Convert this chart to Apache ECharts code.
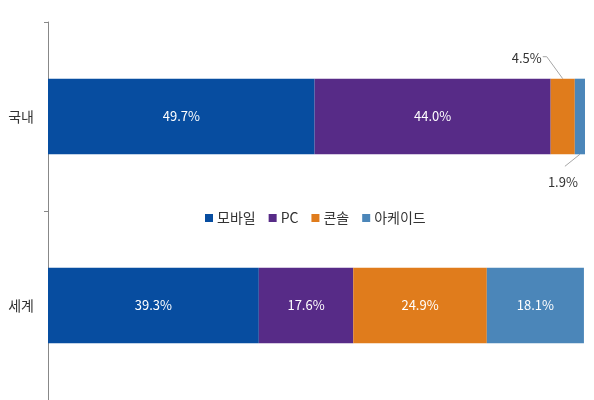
<!DOCTYPE html>
<html>
<head>
<meta charset="utf-8">
<script src="https://cdn.jsdelivr.net/npm/echarts@6/dist/echarts.min.js"></script>
<style>
  html, body { margin: 0; padding: 0; background: #fff; }
  #chart { width: 594px; height: 400px; }
</style>
</head>
<body>
<div id="chart"></div>
<script>
const categories = ['국내', '세계'];
const seriesNames = ['모바일', 'PC', '콘솔', '아케이드'];
const mobile = [49.7, 39.3];
const pc = [44.0, 17.6];
const consoleShare = [4.5, 24.9];
const arcade = [1.9, 18.1];

const colors = ['#074DA0', '#572B87', '#E07C1C', '#4B86B9'];
const FONT = '"Noto Sans CJK KR", "Noto Sans", sans-serif';
const BAR_RATIO = 0.4;

const chart = echarts.init(document.getElementById('chart'));

const valuesList = [mobile, pc, consoleShare, arcade];

// 국내 콘솔/아케이드 slices are too thin, so their labels go outside
const outsideLabels = {
  2: { position: 'top', dx: -36, dy: -9 },
  3: { position: 'bottom', dx: -17, dy: 16 }
};

const series = seriesNames.map((name, i) => {
  const out = outsideLabels[i];
  return {
    name,
    type: 'bar',
    stack: 'total',
    barWidth: (BAR_RATIO * 100) + '%',
    itemStyle: { color: colors[i] },
    label: {
      show: true,
      position: 'inside',
      color: '#fff',
      fontSize: 13,
      fontFamily: FONT,
      formatter: p => p.value.toFixed(1) + '%'
    },
    labelLayout: out ? (p => (p.dataIndex === 0 ? { dx: out.dx, dy: out.dy } : {})) : undefined,
    data: valuesList[i].map((v, j) => {
      if (out && j === 0) {
        return { value: v, label: { position: out.position, color: '#333' } };
      }
      return v;
    })
  };
});

chart.setOption({
  animation: false,
  textStyle: { fontFamily: FONT },
  legend: {
    data: seriesNames,
    top: 206,
    left: 200,
    icon: 'rect',
    itemWidth: 8,
    itemHeight: 8,
    itemGap: 13,
    textStyle: { fontSize: 14, color: '#333', fontFamily: FONT, padding: [0, 0, 0, -1] }
  },
  grid: { left: 48, right: 9, top: 22, height: 382, containLabel: false },
  xAxis: {
    type: 'value',
    min: 0,
    max: 'dataMax',
    show: false
  },
  yAxis: {
    type: 'category',
    data: categories,
    inverse: true,
    axisLine: { show: true, lineStyle: { color: '#888', width: 1 } },
    axisTick: { show: true, length: 4, lineStyle: { color: '#888' } },
    axisLabel: { fontSize: 14, color: '#333', margin: 14, fontFamily: FONT }
  },
  series
});

// guide lines for the outside labels, anchored on the bar segments via the chart's own scales
function segmentPoint(seriesIdx, catIdx, edge) {
  let start = 0;
  for (let k = 0; k < seriesIdx; k++) start += valuesList[k][catIdx];
  const mid = start + valuesList[seriesIdx][catIdx] / 2;
  const c = chart.convertToPixel({ gridIndex: 0 }, [mid, categories[catIdx]]);
  const other = chart.convertToPixel({ gridIndex: 0 }, [mid, categories[1 - catIdx]]);
  const half = Math.abs(other[1] - c[1]) * BAR_RATIO / 2;
  return [c[0], edge === 'top' ? c[1] - half : c[1] + half];
}

const lineStyle = { stroke: '#a6a6a6', lineWidth: 1, fill: null };
const pTop = segmentPoint(2, 0, 'top');
const pBottom = segmentPoint(3, 0, 'bottom');

chart.setOption({
  graphic: [
    {
      type: 'polyline',
      silent: true,
      shape: { points: [[pTop[0] - 20, pTop[1] - 22], [pTop[0] - 16, pTop[1] - 22], pTop] },
      style: lineStyle
    },
    {
      type: 'polyline',
      silent: true,
      shape: { points: [pBottom, [pBottom[0] - 15, pBottom[1] + 12]] },
      style: lineStyle
    }
  ]
});
</script>
</body>
</html>
